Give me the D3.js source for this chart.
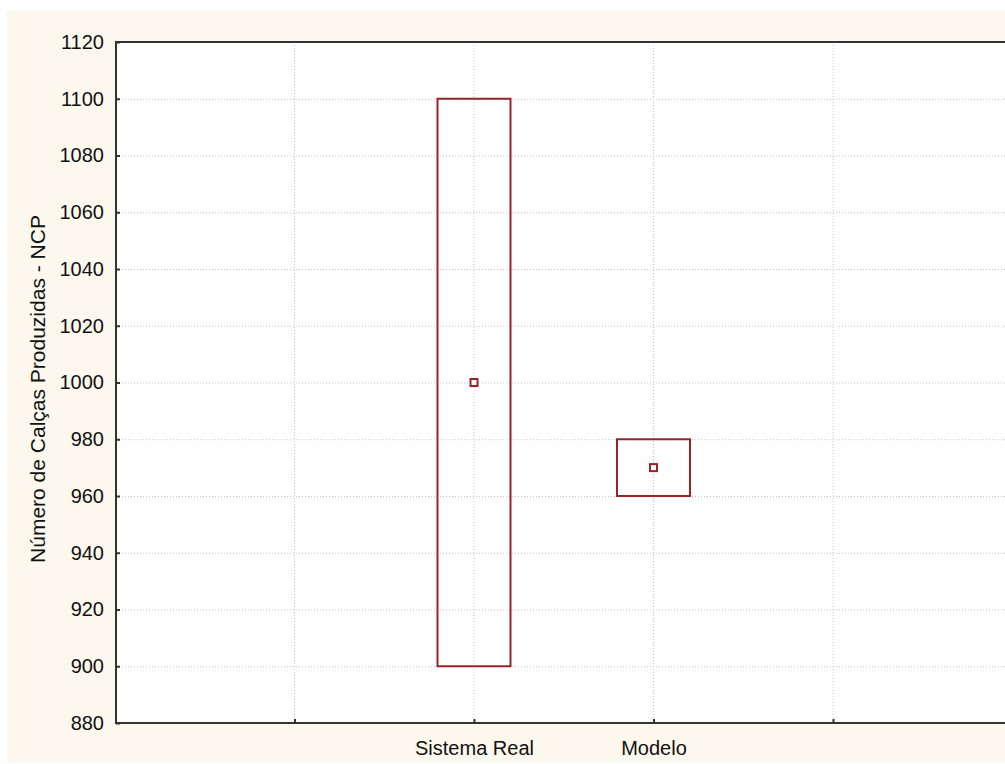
<!DOCTYPE html>
<html>
<head>
<meta charset="utf-8">
<script src="https://cdn.jsdelivr.net/npm/d3@7"></script>
<style>
  body { margin: 0; background: #fff; }
  svg { display: block; font-family: "Liberation Sans", Arial, sans-serif; }
</style>
</head>
<body>
<div id="chart"></div>
<script>
// data
const categories = ["", "Sistema Real", "Modelo", ""];
const boxLow = [null, 900, 960, null];
const boxHigh = [null, 1100, 980, null];
const means = [null, 1000, 970, null];
const yTicks = [880, 900, 920, 940, 960, 980, 1000, 1020, 1040, 1060, 1080, 1100, 1120];

// sizes
const width = 1005;
const height = 764;
const margin = {top: 42, left: 116, bottom: 41};
const plotRight = 1016; // plot runs past the window edge
const boxColour = "#9b2226";
const gridColour = "#c4c4c4";
const axisColour = "#333333";
const fontSize = "20px";

const svg = d3.select("#chart").append("svg")
  .attr("width", width)
  .attr("height", height);

// cream panel
svg.append("rect")
  .attr("x", 7).attr("y", 11)
  .attr("width", width - 7).attr("height", 751)
  .attr("fill", "#fdf8ee");

const x = d3.scaleLinear().domain([1, 4]).range([294.5, 833]);
const y = d3.scaleLinear().domain([880, 1120]).range([height - margin.bottom, margin.top]);

// plot background
svg.append("rect")
  .attr("x", margin.left).attr("y", margin.top)
  .attr("width", plotRight - margin.left)
  .attr("height", y(880) - y(1120))
  .attr("fill", "#ffffff");

// grid
svg.append("g")
  .selectAll("line")
  .data(yTicks.slice(1, -1))
  .join("line")
    .attr("x1", margin.left).attr("x2", plotRight)
    .attr("y1", d => y(d) + 0.5).attr("y2", d => y(d) + 0.5)
    .attr("stroke", gridColour)
    .attr("stroke-dasharray", "1,2");

svg.append("g")
  .selectAll("line")
  .data(d3.range(1, categories.length + 1))
  .join("line")
    .attr("x1", d => x(d)).attr("x2", d => x(d))
    .attr("y1", y(1120)).attr("y2", y(880))
    .attr("stroke", gridColour)
    .attr("stroke-dasharray", "1,2");

// axes
svg.append("g")
  .attr("transform", `translate(${margin.left},0)`)
  .call(d3.axisRight(y).tickValues(yTicks).tickSize(4).tickFormat(d3.format("d")))
  .call(g => g.select(".domain").remove())
  .call(g => g.selectAll(".tick line").attr("stroke", axisColour).attr("stroke-width", 2))
  .call(g => g.selectAll(".tick text")
    .attr("x", -12).attr("text-anchor", "end")
    .attr("font-size", fontSize).attr("fill", "#111"));

svg.append("g")
  .attr("transform", `translate(0,${y(880)})`)
  .call(d3.axisTop(x).tickValues(d3.range(1, categories.length + 1)).tickSize(4)
    .tickFormat(d => categories[d - 1]))
  .call(g => g.select(".domain").remove())
  .call(g => g.selectAll(".tick line").attr("stroke", axisColour).attr("stroke-width", 2))
  .call(g => g.selectAll(".tick text")
    .attr("y", 32).attr("dy", 0)
    .attr("font-size", fontSize).attr("fill", "#111"));

// frame lines
svg.append("path")
  .attr("d", `M${plotRight},${y(1120)}H${margin.left}V${y(880)}H${plotRight}`)
  .attr("fill", "none")
  .attr("stroke", axisColour)
  .attr("stroke-width", 2);

// y label
svg.append("text")
  .attr("transform", `translate(45,389)rotate(-90)`)
  .attr("text-anchor", "middle")
  .attr("font-size", "21px")
  .attr("fill", "#111")
  .text("Número de Calças Produzidas - NCP");

// boxes
const boxWidth = 73;
const rows = d3.range(categories.length).filter(i => means[i] !== null);

svg.append("g")
  .selectAll("rect")
  .data(rows)
  .join("rect")
    .attr("x", i => x(i + 1) - boxWidth / 2)
    .attr("y", i => y(boxHigh[i]))
    .attr("width", boxWidth)
    .attr("height", i => y(boxLow[i]) - y(boxHigh[i]))
    .attr("fill", "none")
    .attr("stroke", boxColour)
    .attr("stroke-width", 2);

svg.append("g")
  .selectAll("rect")
  .data(rows)
  .join("rect")
    .attr("x", i => x(i + 1) - 3.5)
    .attr("y", i => y(means[i]) - 3.5)
    .attr("width", 7)
    .attr("height", 7)
    .attr("fill", "#fff")
    .attr("stroke", boxColour)
    .attr("stroke-width", 2);
</script>
</body>
</html>
